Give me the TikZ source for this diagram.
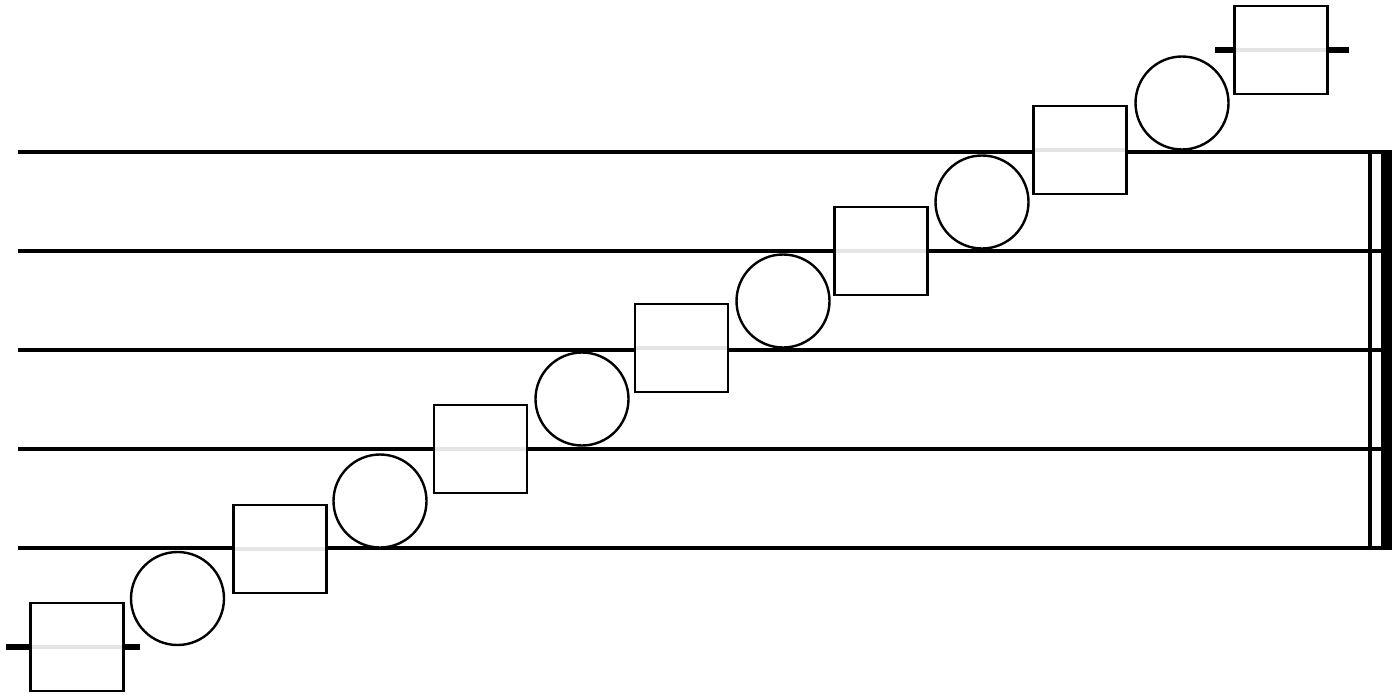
\documentclass[tikz,border=0pt]{standalone}
\begin{document}
\begin{tikzpicture}[x=1pt,y=-1pt,
			staff line/.style={line width=4pt},
			ledger line/.style={line width=5.5pt},
			square note/.style={rectangle,draw,fill=white,line width=2.4pt,inner sep=0pt,
				minimum width=93pt,minimum height=88pt,
				path picture={\draw[black!10,line width=3.5pt] (path picture bounding box.west) -- (path picture bounding box.east);}},
			round note/.style={circle,draw,fill=white,line width=2.4pt,inner sep=0pt,minimum size=93pt}]
			
			\useasboundingbox (0,0) rectangle (1396,696);
			
			% staff and final bar
			\foreach \y in {152,251,350,449,548}
			\draw[staff line] (18,\y) -- (1392,\y);
			\draw[line width=3.5pt] (1370,152) -- (1370,548);
			\draw[line width=11.5pt] (1386.5,152) -- (1386.5,548);
			
			% ledger lines
			\coordinate (l1a) at (6,647);
			\coordinate (l1b) at (140,647);
			\coordinate (l2a) at (1215,50);
			\coordinate (l2b) at (1349,50);
			\draw[ledger line] (l1a) -- (l1b);
			\draw[ledger line] (l2a) -- (l2b);
			
			% notes
			\node[square note] (1) at (77,647) {};
			\node[round note] (2) at (177.5,598.5) {};
			\node[square note] (3) at (280,549) {};
			\node[round note] (4) at (380,501) {};
			\node[square note] (5) at (480.5,449) {};
			\node[round note] (6) at (582,399) {};
			\node[square note] (7) at (681.5,348) {};
			\node[round note] (8) at (783,301) {};
			\node[square note] (9) at (881,251) {};
			\node[round note] (10) at (982,202) {};
			\node[square note] (11) at (1080,150) {};
			\node[round note] (12) at (1182,103) {};
			\node[square note] (13) at (1281,50) {};
			
		\end{tikzpicture}
\end{document}
